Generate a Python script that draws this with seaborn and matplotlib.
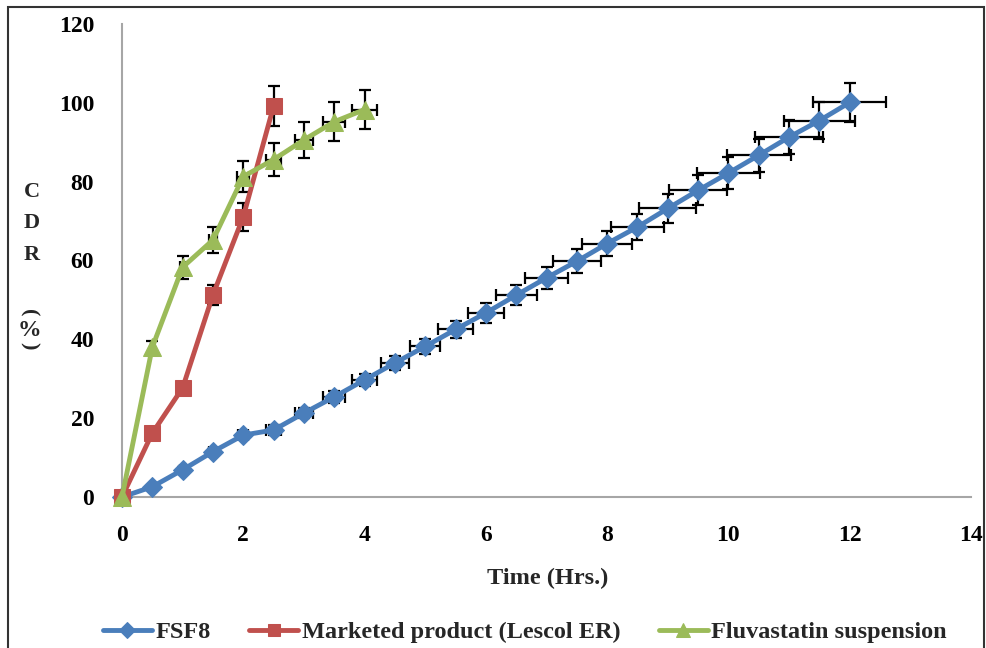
import matplotlib
matplotlib.use("Agg")
import matplotlib.pyplot as plt
import matplotlib.patches as patches
import seaborn as sns
import pandas as pd

# ---- data ----
t_fsf8 = [0, 0.5, 1, 1.5, 2, 2.5, 3, 3.5, 4, 4.5, 5, 5.5, 6, 6.5, 7, 7.5, 8, 8.5, 9, 9.5, 10, 10.5, 11, 11.5, 12]
cdr_fsf8 = [0, 2.6, 6.9, 11.5, 15.7, 17.0, 21.3, 25.4, 29.7, 34.0, 38.2, 42.5, 46.7, 51.2, 55.6, 59.8, 64.3, 68.5, 73.2, 77.8, 82.2, 86.7, 91.3, 95.5, 100.1]
yerr_fsf8 = [0, 0.5, 0.6, 0.8, 1.0, 1.2, 1.3, 1.5, 1.6, 1.8, 2.0, 2.2, 2.5, 2.6, 2.8, 3.0, 3.2, 3.4, 3.6, 3.8, 4.0, 4.2, 4.4, 4.7, 5.0]
xerr_fsf8 = [0, 0.02, 0.04, 0.06, 0.08, 0.12, 0.15, 0.18, 0.20, 0.23, 0.25, 0.29, 0.30, 0.34, 0.36, 0.40, 0.41, 0.43, 0.47, 0.48, 0.52, 0.53, 0.56, 0.59, 0.60]

t_mkt = [0, 0.5, 1, 1.5, 2, 2.5]
cdr_mkt = [0, 16.2, 27.7, 51.3, 71.1, 99.2]
yerr_mkt = [0, 0.6, 1.0, 2.5, 3.6, 5.0]

t_susp = [0, 0.5, 1, 1.5, 2, 2.5, 3, 3.5, 4]
cdr_susp = [0, 38.0, 58.3, 65.2, 81.3, 85.6, 90.6, 95.2, 98.3]
yerr_susp = [0, 1.5, 2.9, 3.4, 4.0, 4.2, 4.6, 4.9, 4.9]
xerr_susp = [0, 0.02, 0.05, 0.07, 0.10, 0.12, 0.15, 0.18, 0.20]

labels = ["FSF8", "Marketed product (Lescol ER)", "Fluvastatin suspension"]
x_ticks = [0, 2, 4, 6, 8, 10, 12, 14]
y_ticks = [0, 20, 40, 60, 80, 100, 120]

# ---- style ----
sns.set_theme(style="white")
plt.rcParams['font.family'] = ['Liberation Serif', 'DejaVu Serif']
plt.rcParams['font.weight'] = 'bold'

W, H = 986, 648
fig = plt.figure(figsize=(W / 100, H / 100), dpi=100)
ax = fig.add_axes([122 / W, 1 - 497 / H, (971 - 122) / W, (497 - 24) / H])

series = [
    (t_fsf8, cdr_fsf8, yerr_fsf8, xerr_fsf8, "#4A7EBB", "D", 10.5),
    (t_mkt, cdr_mkt, yerr_mkt, None, "#C0504D", "s", 11.5),
    (t_susp, cdr_susp, yerr_susp, xerr_susp, "#9BBB59", "^", 12.5),
]

for (t, y, ye, xe, col, mk, ms), lab in zip(series, labels):
    ax.errorbar(t, y, yerr=ye, xerr=xe, fmt="none", ecolor="black",
                elinewidth=1.6, capsize=4.5, capthick=1.6, zorder=2)
    df = pd.DataFrame({"t": t, "y": y})
    sns.lineplot(data=df, x="t", y="y", ax=ax, color=col, lw=3.5,
                 marker=mk, markersize=ms, markeredgecolor=col,
                 label=lab, zorder=3, legend=False, clip_on=False)

ax.set_xlim(0, 14)
ax.set_ylim(0, 120)
ax.set_xticks(x_ticks)
ax.set_yticks(y_ticks)
ax.set_xticklabels([str(v) for v in x_ticks], fontsize=17, fontweight='bold')
ax.set_yticklabels([str(v) for v in y_ticks], fontsize=17, fontweight='bold')
ax.set_xlabel("")
ax.set_ylabel("")

for s in ["top", "right"]:
    ax.spines[s].set_visible(False)
for s in ["left", "bottom"]:
    ax.spines[s].set_color("#A6A6A6")
    ax.spines[s].set_linewidth(1.5)
ax.tick_params(axis="both", direction="out", length=6, width=1.5,
               color="#A6A6A6", labelcolor="black")
ax.tick_params(axis="x", pad=14)
ax.tick_params(axis="y", pad=14)

# axis titles
fig.text(548 / W, 1 - 578 / H, "Time (Hrs.)", ha="center", va="center",
         fontsize=17.5, fontweight="bold")
for ch, yy in zip(["C", "D", "R"], [192, 223, 255]):
    fig.text(32 / W, 1 - yy / H, ch, ha="center", va="center",
             fontsize=16, fontweight="bold")
fig.text(29 / W, 1 - 313 / H, "(", ha="center", va="center",
         fontsize=16, fontweight="bold", rotation=-90)
fig.text(29 / W, 1 - 330 / H, "%", ha="center", va="center",
         fontsize=17, fontweight="bold")
fig.text(29 / W, 1 - 346 / H, ")", ha="center", va="center",
         fontsize=16, fontweight="bold", rotation=-90)

# legend
handles, labs = ax.get_legend_handles_labels()
fig.legend(handles, labs, loc="center", bbox_to_anchor=(525 / W, 1 - 632 / H),
           ncol=3, frameon=False, prop={"size": 17.5, "weight": "bold"},
           handlelength=2.0, columnspacing=1.6, handletextpad=0.15,
           markerscale=0.8)

# figure border
fig.patches.append(patches.Rectangle((8 / W, -0.02), (984 - 8) / W, 1.02 - 7 / H,
                                     transform=fig.transFigure, fill=False,
                                     edgecolor="#333333", lw=1.5))

fig.savefig("out.png", dpi=100)
